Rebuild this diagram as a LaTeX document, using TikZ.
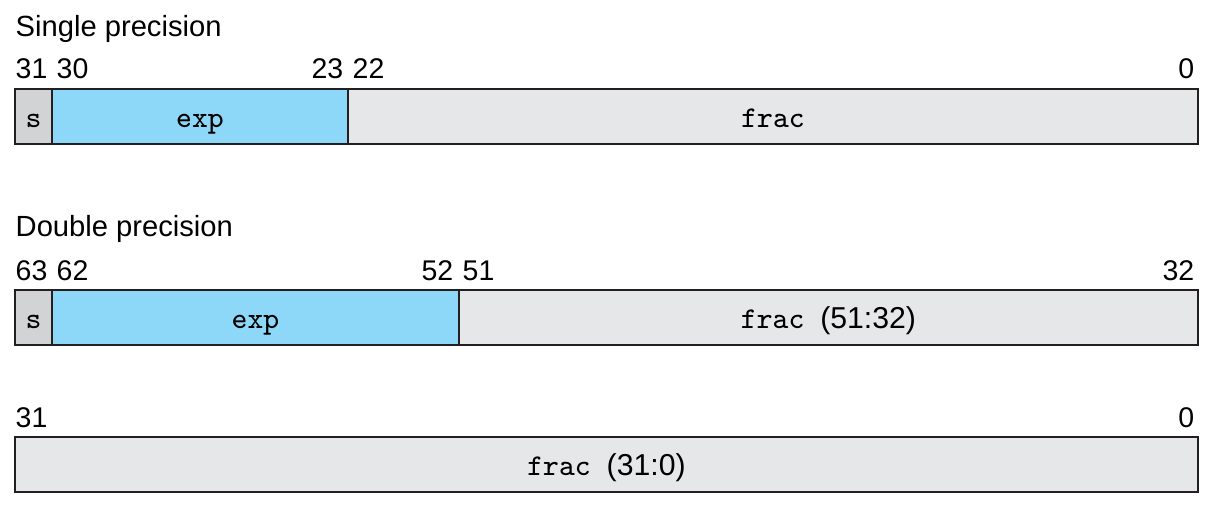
\documentclass[tikz,border=0pt]{standalone}
\usepackage{fontspec}
\setmainfont{Liberation Sans}
\usetikzlibrary{positioning}

\definecolor{signgray}{HTML}{D1D3D4}
\definecolor{expblue}{HTML}{8DD8F8}
\definecolor{fracgray}{HTML}{E6E7E8}
\definecolor{edgegray}{HTML}{231F20}

\begin{document}
\begin{tikzpicture}[x=0.1mm, y=-0.1mm]

% Styles
\tikzset{
  field/.style={draw=edgegray, line width=0.6pt, inner sep=0pt, outer sep=0pt,
    minimum height=5.5mm, anchor=north west, text height=1.2ex, text depth=0pt,
    font=\fontsize{8.6}{10}\ttfamily},
  sfield/.style={field, fill=signgray, minimum width=3.7mm},
  efield/.style={field, fill=expblue},
  ffield/.style={field, fill=fracgray},
  title/.style={anchor=base west, inner sep=0pt, font=\fontsize{8.3}{10}\selectfont},
  bitl/.style={anchor=base west, inner sep=0pt, font=\fontsize{8.1}{9}\selectfont},
  bitr/.style={bitl, anchor=base east}
}

\useasboundingbox (0,0) rectangle (1211,514);

% Single precision
\node[title] (single) at (15,37) {Single precision};
\node[sfield] (s1) at (15,89) {s};
\node[efield, minimum width=29.6mm, right=0pt of s1] (e1) {exp};
\node[ffield, minimum width=85mm, right=0pt of e1] (f1) {frac};

\node[bitl] (b31) at (15,79) {31};
\node[bitl] (b30) at (56,79) {30};
\node[bitr] (b23) at (344,79) {23};
\node[bitl] (b22) at (352,79) {22};
\node[bitr] (b0) at (1195,79) {0};

% Double precision, upper word
\node[title] (double) at (15,237) {Double precision};
\node[sfield] (s2) at (15,290) {s};
\node[efield, minimum width=40.7mm, right=0pt of s2] (e2) {exp};
\node[ffield, minimum width=73.9mm, right=0pt of e2] (f2) {frac\ \rmfamily(51:32)};

\node[bitl] (d63) at (15,281) {63};
\node[bitl] (d62) at (56,281) {62};
\node[bitr] (d52) at (454,281) {52};
\node[bitl] (d51) at (462,281) {51};
\node[bitr] (d32) at (1195,281) {32};

% Double precision, lower word
\node[ffield, minimum width=118.3mm] (f3) at (15,437) {frac\ \rmfamily(31:0)};

\node[bitl] (l31) at (15,428) {31};
\node[bitr] (l0) at (1195,428) {0};

\end{tikzpicture}
\end{document}
